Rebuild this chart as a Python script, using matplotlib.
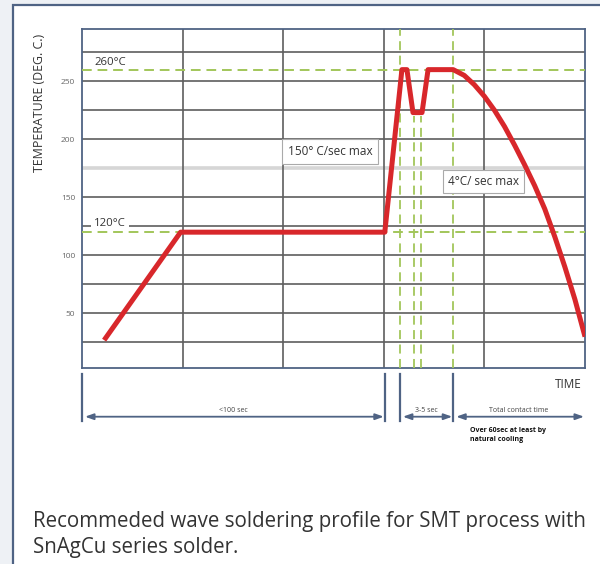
import matplotlib
matplotlib.use("Agg")
import matplotlib.pyplot as plt
from matplotlib.patches import Rectangle

# ---- data ----
time_pts = [0.22, 0.98, 3.01, 3.18, 3.23, 3.29, 3.38, 3.44, 3.69, 3.80, 3.90, 4.00,
            4.10, 4.20, 4.30, 4.40, 4.50, 4.60, 4.70, 4.80, 4.90, 5.00]
temp_pts = [27, 120, 120, 260, 260, 223, 223, 260, 260, 255, 247, 237,
            225, 211, 195, 178, 160, 140, 116, 90, 62, 30]
y_ticks = [50, 100, 150, 200, 250]
h_grid = [25, 50, 75, 100, 125, 150, 200, 225, 250, 275]
light_grid = [175]
v_grid = [1, 2, 3, 4]
ref_temps = [260, 120]
ref_labels = ["260°C", "120°C"]
ref_label_y = [266.5, 127.5]
full_vlines = [3.16, 3.69]
dip_vlines = [3.30, 3.37]
dip_temp = 223
phase_bounds = [0.0, 3.01, 3.16, 3.69, 5.0]
phase_labels = ["<100 sec", "3-5 sec", "Total contact time"]

RED = "#d8272b"
GREEN = "#a2c65a"
FRAME = "#4f6384"
GRID = "#5e5e5e"
FONT = "Open Sans"

fig = plt.figure(figsize=(6.0, 5.64), dpi=100)
fig.patch.set_facecolor("#eef1f5")
W, H = 600, 564
def fx(px): return px / W
def fy(py): return 1 - py / H

# outer frame (background axes)
bg = fig.add_axes([0, 0, 1, 1], zorder=-10)
bg.set_xlim(0, W)
bg.set_ylim(H, 0)
bg.axis("off")
bg.add_patch(Rectangle((13, 5), 600, 600, facecolor="white", edgecolor=FRAME, lw=1.6))

ax = fig.add_axes([fx(82), fy(368), fx(585) - fx(82), fy(29) - fy(368)])
ax.set_xlim(0, 5)
ax.set_ylim(3, 295)

for y in h_grid:
    ax.axhline(y, color=GRID, lw=1.2, zorder=1)
for y in light_grid:
    ax.axhline(y, color="#d6d6d6", lw=2.6, zorder=1)
for x in v_grid:
    ax.axvline(x, color=GRID, lw=1.2, zorder=1)

for t in ref_temps:
    ax.axhline(t, color=GREEN, lw=1.4, ls=(0, (5, 3)), zorder=3)
for x in full_vlines:
    ax.axvline(x, color=GREEN, lw=1.3, ls=(0, (5, 3)), zorder=3)
for x in dip_vlines:
    ax.plot([x, x], [3, dip_temp - 3], color=GREEN, lw=1.3, ls=(0, (5, 3)), zorder=3)

ax.plot(time_pts, temp_pts, color=RED, lw=3.6, solid_joinstyle="round",
        solid_capstyle="butt", zorder=5)

for lab, yy in zip(ref_labels, ref_label_y):
    ax.text(0.12, yy, lab, fontsize=8.2, family=FONT, color="#333333", va="center", ha="left",
            zorder=2, bbox=dict(boxstyle="square,pad=0.3", fc="white", ec="none"))

ax.text(2.465, 189.7, "150° C/sec max", fontsize=8.5, family=FONT, color="#333333",
        ha="center", va="center", zorder=6,
        bbox=dict(boxstyle="square,pad=0.5", fc="white", ec="#aaaaaa", lw=0.8))
ax.text(3.99, 163.8, "4°C/ sec max", fontsize=8.5, family=FONT, color="#333333",
        ha="center", va="center", zorder=6,
        bbox=dict(boxstyle="square,pad=0.45", fc="white", ec="#aaaaaa", lw=0.8))

ax.set_yticks(y_ticks)
ax.set_yticklabels([str(v) for v in y_ticks], fontsize=6, color="#666666", family=FONT)
ax.tick_params(axis="y", length=0, pad=5)
ax.set_xticks([])
for s in ax.spines.values():
    s.set_color(FRAME)
    s.set_linewidth(1.3)

fig.text(fx(40), fy(103), "TEMPERATURE (DEG. C.)", rotation=90, fontsize=8.9, family=FONT,
         color="#333333", ha="center", va="center")

# ---- bottom annotations ----
ax2 = fig.add_axes([fx(82), fy(445), fx(585) - fx(82), fy(370) - fy(445)], sharex=ax)
ax2.set_ylim(445, 370)
ax2.axis("off")
for xb in phase_bounds[:-1]:
    ax2.plot([xb, xb], [374, 421], color=FRAME, lw=1.6, clip_on=False)

segs = [(phase_bounds[0], phase_bounds[1]), (phase_bounds[2], phase_bounds[3]),
        (phase_bounds[3], phase_bounds[4])]
for (a, b), lab in zip(segs, phase_labels):
    ax2.annotate("", xy=(b - 0.01, 416.7), xytext=(a + 0.03, 416.7),
                 arrowprops=dict(arrowstyle="<|-|>,head_length=0.5,head_width=0.18",
                                 color=FRAME, lw=1.3, shrinkA=0, shrinkB=0))
    ax2.text((a + b) / 2, 411, lab, fontsize=5, family=FONT, color="#444444",
             ha="center", va="center")
ax2.text(3.86, 427.5, "Over 60sec at least by\nnatural cooling", fontsize=5, family=FONT,
         fontweight="bold", color="#111111", ha="left", va="top", linespacing=1.3)
ax2.text(4.97, 384, "TIME", fontsize=8.5, family=FONT, color="#333333", ha="right", va="center")

fig.text(fx(33), fy(521), "Recommeded wave soldering profile for SMT process with",
         fontsize=14.8, family=FONT, color="#333333", ha="left", va="center")
fig.text(fx(33), fy(548), "SnAgCu series solder.",
         fontsize=14.8, family=FONT, color="#333333", ha="left", va="center")

fig.savefig("out.png", dpi=100, facecolor=fig.get_facecolor())
